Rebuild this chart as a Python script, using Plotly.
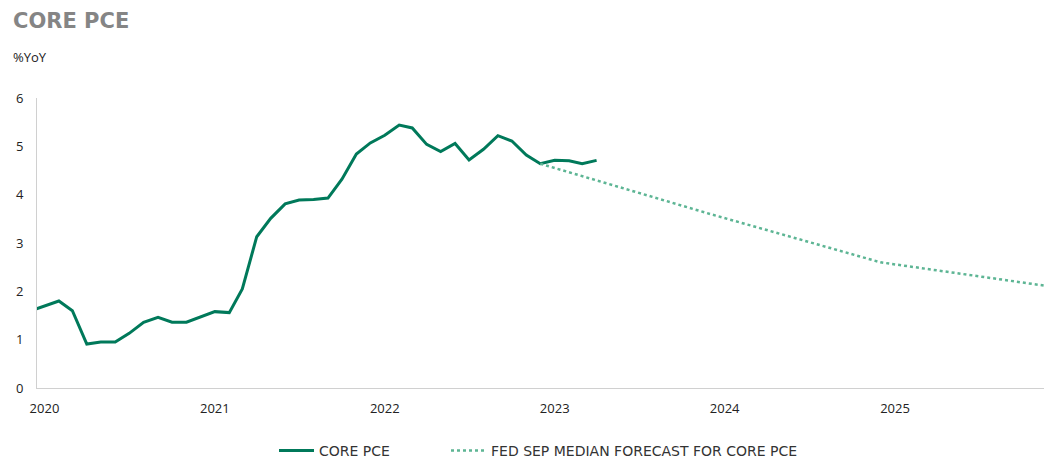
import pandas as pd
import plotly.graph_objects as go

# ---- data ----
actual_months = pd.date_range("2019-12-01", "2023-04-01", freq="MS")
core_pce = [
    1.59,
    1.69, 1.80, 1.60, 0.91, 0.95, 0.95, 1.13, 1.36, 1.46, 1.36, 1.36, 1.47,
    1.58, 1.56, 2.05, 3.13, 3.51, 3.81, 3.89, 3.90, 3.93, 4.32, 4.84, 5.07,
    5.23, 5.44, 5.38, 5.04, 4.89, 5.06, 4.72, 4.94, 5.22, 5.11, 4.82, 4.64,
    4.71, 4.70, 4.64, 4.71,
]
forecast_months = ["2022-12-01", "2023-12-01", "2024-12-01", "2025-12-01"]
fed_forecast = [4.64, 3.6, 2.6, 2.1]

year_ticks = ["2020-01-01", "2021-01-01", "2022-01-01", "2023-01-01", "2024-01-01", "2025-01-01"]
year_labels = ["2020", "2021", "2022", "2023", "2024", "2025"]

series_names = ["CORE PCE", "FED SEP MEDIAN FORECAST FOR CORE PCE"]

# ---- layout geometry (pixels) ----
W, H = 1044, 458
L, R, T, B = 37, 0, 98, 70
PW, PH = W - L - R, H - T - B


def px_x(x):
    return (x - L) / PW


def px_y(y):
    return (H - B - y) / PH


FONT = "Open Sans"
LEGFONT = dict(family="DejaVu Sans", size=14, color="#333333")

fig = go.Figure()
fig.add_trace(go.Scatter(
    x=list(actual_months), y=core_pce, mode="lines", name=series_names[0],
    line=dict(color="#00795A", width=3), legend="legend",
))
fig.add_trace(go.Scatter(
    x=forecast_months, y=fed_forecast, mode="lines", name=series_names[1],
    line=dict(color="#5DB594", width=2.5, dash="3px,3px"), legend="legend2",
))

fig.update_layout(
    width=W, height=H,
    margin=dict(l=L, r=R, t=T, b=B, autoexpand=False),
    plot_bgcolor="white", paper_bgcolor="white",
    font=dict(family=FONT, size=13, color="#222222"),
    showlegend=True,
    legend=dict(
        orientation="h", x=px_x(274), xanchor="left", y=px_y(451), yanchor="middle",
        font=LEGFONT, bgcolor="rgba(0,0,0,0)", itemwidth=35,
    ),
    legend2=dict(
        orientation="h", x=px_x(446), xanchor="left", y=px_y(451), yanchor="middle",
        font=LEGFONT, bgcolor="rgba(0,0,0,0)", itemwidth=35,
    ),
    annotations=[
        dict(
            text="<b>CORE PCE</b>", xref="paper", yref="paper",
            x=px_x(11), xanchor="left", y=px_y(21), yanchor="middle",
            showarrow=False,
            font=dict(family="DejaVu Sans", size=21, color="#858585"),
        ),
        dict(
            text="%YoY", xref="paper", yref="paper",
            x=px_x(11), xanchor="left", y=px_y(57), yanchor="middle",
            showarrow=False, font=dict(family=FONT, size=13, color="#222222"),
        ),
    ],
)

fig.update_xaxes(
    type="date", range=["2019-12-16", "2025-11-17"],
    tickvals=year_ticks, ticktext=year_labels,
    showgrid=False, zeroline=False, automargin=False,
    showline=True, linecolor="#d0d0d0", linewidth=1,
    ticks="", ticklabelstandoff=8,
    tickfont=dict(family=FONT, size=13, color="#222222"),
)
fig.update_yaxes(
    range=[0, 6], tickvals=[0, 1, 2, 3, 4, 5, 6],
    showgrid=False, zeroline=False, automargin=False,
    showline=True, linecolor="#d0d0d0", linewidth=1,
    ticks="", ticklabelstandoff=10,
    tickfont=dict(family=FONT, size=13, color="#222222"),
)

fig.write_html(
    "out.html",
    config={"displayModeBar": False},
    post_script="document.body.style.margin='0';document.body.style.overflow='hidden';",
)
